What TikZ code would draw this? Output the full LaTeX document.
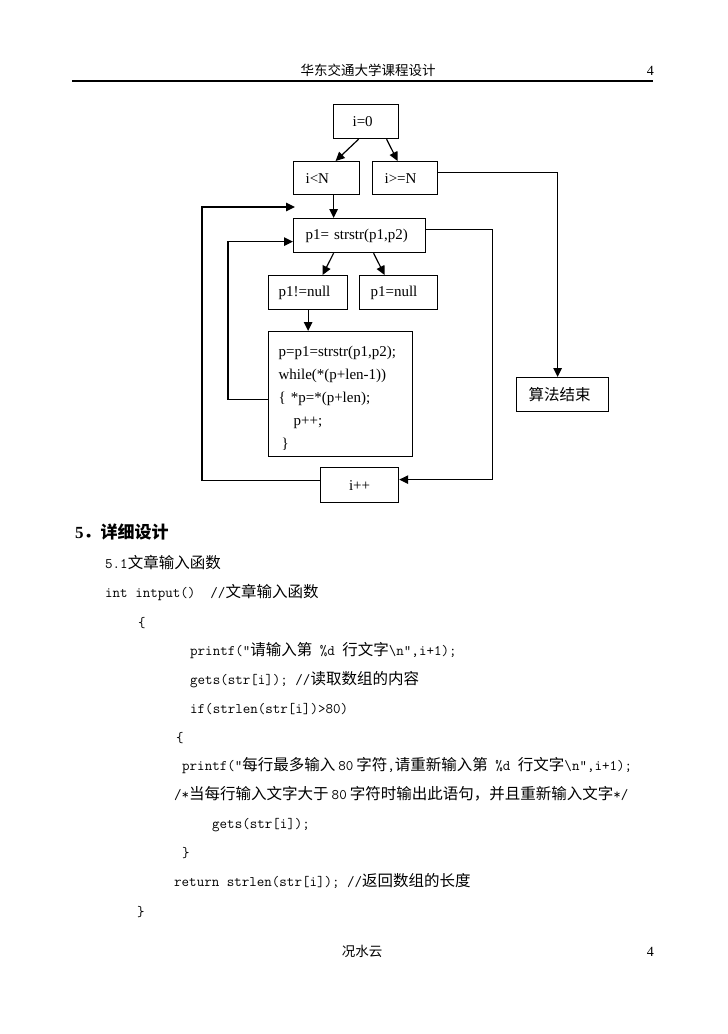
\documentclass[tikz,border=0pt]{standalone}
\usepackage{fontspec}
\setmainfont{Liberation Serif}
\newfontfamily\cjk{Noto Sans CJK SC}
\usetikzlibrary{arrows.meta,calc}
\newcommand\zh[1]{{\cjk\fontsize{15.5}{16}\selectfont #1}}
\newcommand\gap{\hspace{3pt}}
\tikzset{
      box/.style     = { draw, line width=1.2pt, anchor=north west, inner xsep=12pt, inner ysep=0pt,
                         minimum height=34pt, align=left, font=\fontsize{15}{23}\selectfont },
      arr/.style     = { line width=1.2pt, -{Triangle[length=9pt,width=8.5pt]} },
      code/.style    = { anchor=base west, inner sep=0pt, font=\fontsize{14.6}{16}\ttfamily },
      pagetxt/.style = { inner sep=0pt, font=\fontsize{13.5}{16}\cjk }
    }

\begin{document}
\begin{tikzpicture}[x=1pt,y=-1pt]
      \useasboundingbox (0,0) rectangle (728,1034);
      \fill[white] (0,0) rectangle (728,1034);

      % Header and footer
      \node[pagetxt, anchor=base] (title) at (368,75) {华东交通大学课程设计};
      \node[anchor=base east, inner sep=0pt, font=\fontsize{14}{16}\selectfont] (pgtop) at (654,75) {4};
      \coordinate (ruleL) at (72,81);
      \coordinate (ruleR) at (653,81);
      \draw[line width=1.4pt] (ruleL) -- (ruleR);
      \node[pagetxt, anchor=base] (author) at (362,956) {况水云};
      \node[anchor=base east, inner sep=0pt, font=\fontsize{14}{16}\selectfont] (pgbot) at (654,956) {4};

      % Draw all boxes
      \node[box, inner xsep=19pt, text width=27pt] (init) at (333,104) {i=0};
      \node[box, minimum height=33pt, text width=42pt] (lt) at (293,161) {i<N};
      \node[box, minimum height=33pt, text width=41pt] (ge) at (372,161) {i>=N};
      \node[box, text width=108pt] (find) at (293,218) {p1= strstr(p1,p2)};
      \node[box, inner xsep=10pt, text width=59pt] (notnull) at (268,275) {p1!=null};
      \node[box, inner xsep=11pt, text width=56pt] (isnull) at (359,275) {p1=null};
      \node[box, inner xsep=10pt, text width=124pt, minimum height=125pt] (body) at (268,331)
        {\rule{0pt}{18pt}p=p1=strstr(p1,p2);\\ while(*(p+len-1))\\ \{ *p=*(p+len);\\ \hspace*{15pt}p++;\\ \hspace*{3pt}\}};
      \node[box, text width=68pt] (done) at (516,377) {\zh{算法结束}};
      \node[box, align=center, minimum height=35pt, text width=54pt] (inc) at (320,467) {i++};

      % Draw connectors
      \draw[arr] ($(init.south)+(-7.5,0)$) -- ($(lt.north)+(9,0)$);
      \draw[arr] ($(init.south)+(20.5,0)$) -- ($(ge.north)+(-7.5,0)$);
      \draw[arr] ($(ge.east)+(0,-5.5)$) -| ($(done.north)+(-5,0)$);
      \draw[arr] ($(lt.south)+(7,0)$) -- ($(lt.south |- find.north)+(7,0)$);
      \draw[arr] ($(find.south)+(-26,0)$) -- ($(notnull.north)+(14.5,0)$);
      \draw[arr] ($(find.south)+(14,0)$) -- ($(isnull.north)+(-14,0)$);
      \draw[arr] (notnull.south) -- (notnull.south |- body.north);
      \draw[arr] ($(body.west)+(0,5.5)$) -- ++(-40,0) |- ($(find.west)+(0,6)$);
      \draw[arr] ($(find.east)+(0,-6)$) -- ++(66,0) |- ($(inc.east)+(0,-5.5)$);
      \draw[arr] ($(inc.west)+(0,-4.5)$) -- ++(-118,0) |- ($(find.north west)+(2,-11)$);

      % Detailed design text
      \node[anchor=base west, inner sep=0pt, font=\fontsize{17}{20}\bfseries] (sec) at (75,538)
        {5{\cjk ．详细设计}};
      \node[code] (c1)  at (105,568) {5.1\zh{文章输入函数}};
      \node[code] (c2)  at (105,597) {int intput()\ \ //\zh{文章输入函数}};
      \node[code] (c3)  at (138,627) {\{};
      \node[code] (c4)  at (190,655) {printf("\zh{请输入第} \%d \zh{行文字}\textbackslash n",i+1);};
      \node[code] (c5)  at (190,684) {gets(str[i]); //\zh{读取数组的内容}};
      \node[code] (c6)  at (190,713) {if(strlen(str[i])>80)};
      \node[code] (c7)  at (176,742) {\{};
      \node[code] (c8)  at (182,770) {printf("\zh{每行最多输入}\gap 80\gap\zh{字符},\zh{请重新输入第} \%d \zh{行文字}\textbackslash n",i+1);};
      \node[code] (c9)  at (174,799) {/*\zh{当每行输入文字大于}\gap 80\gap\zh{字符时输出此语句，并且重新输入文字}*/};
      \node[code] (c10) at (212,828) {gets(str[i]);};
      \node[code] (c11) at (182,857) {\}};
      \node[code] (c12) at (174,886) {return strlen(str[i]); //\zh{返回数组的长度}};
      \node[code] (c13) at (137,916) {\}};
\end{tikzpicture}
\end{document}
